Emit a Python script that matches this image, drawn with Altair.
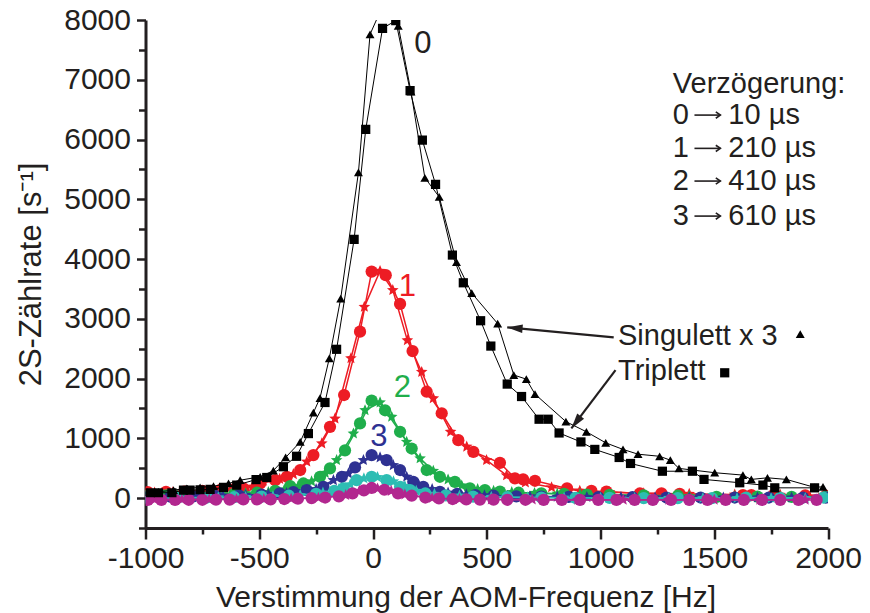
import altair as alt
import pandas as pd

# ---------------- data ----------------
# black: singulett x 3 (triangles) and triplett (squares), delay 0
sing_x = [-990, -943, -877, -818, -760, -701, -635, -584, -496, -438, -384, -320, -262, -233, -192, -142, -64, -13, 50, 111, 167, 228, 291, 367, 434, 548, 619, 674, 712, 848, 938, 1023, 1099, 1165, 1260, 1307, 1345, 1502, 1626, 1663, 1734, 1817, 1941, 1978]
sing_y = [100, 105, 134, 162, 180, 200, 245, 300, 357, 460, 680, 940, 1430, 1675, 2340, 3340, 5450, 7760, 8300, 7900, 6800, 5360, 5040, 3950, 3430, 2920, 2060, 1990, 1740, 1280, 1110, 925, 815, 735, 700, 635, 497, 425, 385, 313, 340, 313, 180, 190]

trip_x = [-978, -943, -884, -833, -804, -760, -716, -657, -599, -514, -467, -394, -336, -284, -211, -160, -83, -32, 42, 100, 163, 217, 275, 349, 397, 473, 518, 590, 653, 730, 770, 818, 914, 975, 1082, 1132, 1272, 1404, 1455, 1612, 1714, 1766, 1941]
trip_y = [90, 90, 90, 134, 134, 140, 145, 180, 218, 310, 345, 525, 700, 1080, 1600, 2490, 4330, 6170, 7860, 7990, 6820, 5990, 5250, 4067, 3603, 2968, 2544, 1908, 1700, 1320, 1320, 1090, 940, 815, 680, 580, 450, 450, 313, 257, 218, 172, 172]

# red: delay 1
red_c_x = [-990, -910, -830, -750, -670, -610, -570, -496, -430, -379, -320, -262, -189, -127, -57, -6, 56, 119, 174, 236, 302, 375, 441, 558, 624, 660, 712, 853, 960, 1026, 1173, 1268, 1348, 1626, 1663, 1760, 1900, 1990]
red_c_y = [100, 105, 110, 120, 140, 150, 162, 245, 300, 357, 470, 720, 1193, 1725, 2785, 3790, 3730, 3250, 2460, 1780, 1420, 970, 775, 590, 330, 313, 290, 162, 120, 110, 78, 80, 70, 50, 50, 50, 45, 40]
red_s_x = [-960, -880, -800, -720, -650, -600, -530, -482, -410, -350, -291, -225, -167, -97, -38, 31, 87, 151, 214, 265, 341, 412, 499, 587, 670, 785, 909, 1040, 1190, 1390, 1590, 1790, 1980]
red_s_y = [90, 95, 100, 110, 130, 150, 190, 290, 320, 400, 610, 915, 1330, 2340, 3200, 3800, 3480, 2640, 2110, 1670, 1110, 860, 635, 380, 260, 180, 122, 100, 80, 70, 60, 55, 50]

# green: delay 2
grn_c_x = [-990, -910, -810, -710, -610, -510, -430, -364, -306, -233, -189, -123, -57, -6, 53, 119, 170, 236, 294, 360, 426, 492, 558, 640, 740, 840, 940, 1040, 1190, 1340, 1510, 1690, 1840, 1990]
grn_c_y = [40, 45, 50, 60, 70, 90, 120, 200, 245, 357, 497, 800, 1250, 1630, 1470, 1110, 830, 470, 357, 273, 162, 134, 110, 90, 80, 70, 60, 55, 45, 40, 20, 25, 20, 20]
grn_s_x = [-960, -860, -760, -660, -560, -460, -390, -330, -270, -210, -160, -86, -35, 31, 82, 148, 207, 265, 330, 390, 460, 530, 610, 710, 810, 910, 1040, 1190, 1390, 1590, 1790, 1980]
grn_s_y = [45, 50, 55, 65, 80, 100, 140, 190, 280, 420, 635, 1080, 1470, 1600, 1360, 940, 665, 455, 310, 210, 150, 120, 100, 85, 75, 65, 55, 45, 35, 30, 25, 20]

# blue: delay 3
blu_c_x = [-990, -890, -790, -690, -590, -490, -410, -350, -291, -218, -137, -79, -6, 60, 119, 177, 221, 294, 370, 450, 530, 630, 740, 860, 990, 1140, 1290, 1440, 1590, 1740, 1890, 1990]
blu_c_y = [20, 25, 30, 35, 45, 60, 80, 100, 134, 190, 357, 515, 720, 635, 470, 273, 190, 105, 70, 50, 40, 30, 25, 20, 15, 15, 10, 10, 10, 10, 10, 10]
blu_s_x = [-960, -860, -760, -660, -560, -460, -380, -310, -250, -174, -108, -42, 31, 89, 148, 200, 260, 330, 410, 490, 590, 690, 810, 940, 1090, 1240, 1390, 1540, 1690, 1840, 1980]
blu_s_y = [20, 25, 30, 40, 50, 65, 85, 115, 150, 300, 413, 635, 680, 550, 357, 230, 150, 90, 60, 45, 35, 28, 22, 18, 15, 12, 10, 10, 10, 10, 10]

# cyan
cyn_c_x = [-990, -860, -730, -610, -490, -370, -250, -170, -130, -72, -6, 60, 119, 163, 230, 320, 440, 590, 740, 890, 1040, 1190, 1340, 1490, 1640, 1790, 1980]
cyn_c_y = [0, 5, 10, 15, 25, 40, 70, 120, 162, 300, 357, 300, 190, 134, 80, 45, 25, 15, 10, 5, 5, 0, 0, 0, 10, 5, 10]
cyn_s_x = [-960, -820, -680, -560, -440, -320, -220, -150, -100, -40, 20, 90, 140, 190, 270, 380, 520, 680, 840, 1000, 1150, 1300, 1450, 1600, 1750, 1900]
cyn_s_y = [5, 8, 12, 18, 30, 50, 90, 150, 230, 330, 350, 280, 200, 120, 70, 40, 20, 12, 8, 5, 3, 2, 0, 0, 0, 0]

# magenta
mag_c_x = [-990, -930, -870, -810, -750, -690, -630, -570, -510, -450, -390, -330, -270, -210, -150, -90, -40, -6, 50, 110, 170, 230, 290, 350, 410, 470, 530, 590, 670, 750, 830, 910, 990, 1070, 1150, 1230, 1310, 1390, 1470, 1550, 1630, 1710, 1790, 1870, 1950]
mag_c_y = [-30, -30, -30, -28, -28, -25, -25, -22, -20, -20, -15, -10, 0, 10, 30, 80, 130, 170, 140, 80, 40, 10, -5, -15, -20, -25, -25, -28, -28, -30, -30, -30, -30, -30, -30, -30, -30, -30, -30, -30, -30, -30, -30, -30, -30]
mag_s_x = [-960, -840, -720, -600, -480, -360, -240, -120, -60, 20, 80, 140, 260, 380, 520, 700, 900, 1100, 1300, 1500, 1700, 1900]
mag_s_y = [-25, -25, -22, -20, -18, -12, 5, 50, 120, 160, 120, 60, 0, -15, -22, -25, -28, -28, -28, -28, -28, -28]

# axes
x_major = [-1000, -500, 0, 500, 1000, 1500, 2000]
x_minor = [-750, -250, 250, 750, 1250, 1750]
y_major = [0, 1000, 2000, 3000, 4000, 5000, 6000, 7000, 8000]
y_minor = [-500, 500, 1500, 2500, 3500, 4500, 5500, 6500, 7500]

# texts
curve_labels = ["0", "1", "2", "3"]
curve_label_x = [219, 151, 129, 26]
curve_label_y = [7598, 3531, 1841, 1021]
legend_head = "Verzögerung:"
legend_keys = ["0", "1", "2", "3"]
legend_vals = ["10 µs", "210 µs", "410 µs", "610 µs"]
legend_x_key = 1318
legend_x_val = 1562
legend_arrow_x0 = 1413
legend_arrow_x1 = 1527
legend_y_head = 6783
legend_y = [6259, 5702, 5155, 4569]
legend_arrow_y = [6409, 5852, 5305, 4719]
note_texts = ["Singulett x 3", "Triplett"]
note_x = [1077, 1077]
note_y = [2561, 1975]
arrow_x0 = [1058, 1066]
arrow_y0 = [2689, 2142]
arrow_x1 = [590, 872]
arrow_y1 = [2857, 1166]
arrow_angle = [275, 217]

# ---------------- styling ----------------
FONT = "Liberation Sans"
INK = "#231f20"
RED, GREEN, BLUE, CYAN, MAGENTA = "#ed1c24", "#1fae4b", "#2e3192", "#2dbdb3", "#b2278f"
STAR = "M0,-1L0.265,-0.364L0.951,-0.309L0.428,0.139L0.588,0.809L0,0.45L-0.588,0.809L-0.428,0.139L-0.951,-0.309L-0.265,-0.364Z"
HEAD = "M0,0L0.42,1.5L-0.42,1.5Z"
CHEVRON = "M-0.75,1.1L0,0L0.75,1.1"

xscale = alt.Scale(domain=[-1000, 2000], nice=False, zero=False)
yscale = alt.Scale(domain=[-500, 8000], nice=False, zero=False)


def X(field="x"):
    return alt.X(f"{field}:Q", scale=xscale, axis=None)


def Y(field="y"):
    return alt.Y(f"{field}:Q", scale=yscale, axis=None)


def series(xs, ys, color, shape, size, lw):
    d = pd.DataFrame({"x": xs, "y": ys})
    b = alt.Chart(d)
    line = b.mark_line(color=color, strokeWidth=lw, clip=True).encode(x=X(), y=Y())
    pts = b.mark_point(shape=shape, filled=True, color=color, fill=color, size=size,
                       opacity=1, strokeWidth=0, clip=True).encode(x=X(), y=Y())
    return [line, pts]


axis_df = pd.DataFrame({"x": [0], "y": [0]})
major_axes = alt.Chart(axis_df).mark_point(opacity=0).encode(
    x=alt.X("x:Q", scale=xscale, title="Verstimmung der AOM-Frequenz [Hz]",
            axis=alt.Axis(orient="bottom", values=x_major, tickSize=11, labelPadding=4,
                          labelFlush=False, labelOverlap=False,
                          labelExpr="'' + datum.value", titlePadding=9, titleX=320)),
    y=alt.Y("y:Q", scale=yscale, title="2S-Zählrate [s⁻¹]",
            axis=alt.Axis(orient="left", values=y_major, tickSize=9, labelPadding=6,
                          labelFlush=False, labelOverlap=False,
                          labelExpr="'' + datum.value", titlePadding=16, titleFontSize=31)),
)
minor_axes = alt.Chart(axis_df).mark_point(opacity=0).encode(
    x=alt.X("x:Q", scale=xscale, title=None,
            axis=alt.Axis(orient="bottom", values=x_minor, tickSize=6, labels=False, domain=False)),
    y=alt.Y("y:Q", scale=yscale, title=None,
            axis=alt.Axis(orient="left", values=y_minor, tickSize=7, labels=False, domain=False)),
)

layers = [major_axes, minor_axes]
for cx, cy, sx, sy, col in [
    (red_c_x, red_c_y, red_s_x, red_s_y, RED),
    (grn_c_x, grn_c_y, grn_s_x, grn_s_y, GREEN),
    (blu_c_x, blu_c_y, blu_s_x, blu_s_y, BLUE),
    (cyn_c_x, cyn_c_y, cyn_s_x, cyn_s_y, CYAN),
    (mag_c_x, mag_c_y, mag_s_x, mag_s_y, MAGENTA),
]:
    layers += series(sx, sy, col, STAR, 150, 1.5)
    layers += series(cx, cy, col, "circle", 150, 1.5)

layers += series(sing_x, sing_y, "#000000", "triangle-up", 80, 1)
layers += series(trip_x, trip_y, "#000000", "square", 85, 1)

# curve labels
lab_df = pd.DataFrame({"x": curve_label_x, "y": curve_label_y, "t": curve_labels,
                       "c": [INK, RED, GREEN, BLUE]})
layers.append(alt.Chart(lab_df).mark_text(font=FONT, fontSize=31, align="center", baseline="middle").encode(
    x=X(), y=Y(), text="t:N", color=alt.Color("c:N", scale=None)))

# legend block
head_df = pd.DataFrame({"x": [legend_x_key], "y": [legend_y_head], "t": [legend_head]})
layers.append(alt.Chart(head_df).mark_text(font=FONT, fontSize=29, align="left", baseline="alphabetic",
                                           color=INK).encode(x=X(), y=Y(), text="t:N"))
key_df = pd.DataFrame({"x": [legend_x_key] * 4, "y": legend_y, "t": legend_keys})
layers.append(alt.Chart(key_df).mark_text(font=FONT, fontSize=29, align="left", baseline="alphabetic",
                                          color=INK).encode(x=X(), y=Y(), text="t:N"))
val_df = pd.DataFrame({"x": [legend_x_val] * 4, "y": legend_y, "t": legend_vals})
layers.append(alt.Chart(val_df).mark_text(font=FONT, fontSize=29, align="left", baseline="alphabetic",
                                          color=INK).encode(x=X(), y=Y(), text="t:N"))
larr_df = pd.DataFrame({"x0": [legend_arrow_x0] * 4, "x1": [legend_arrow_x1] * 4, "y": legend_arrow_y,
                        "a": [90] * 4})
layers.append(alt.Chart(larr_df).mark_rule(color=INK, strokeWidth=1.6).encode(
    x=X("x0"), x2="x1:Q", y=Y()))
layers.append(alt.Chart(larr_df).mark_point(shape=CHEVRON, filled=False, color=INK, size=70,
                                            strokeWidth=1.6, opacity=1).encode(
    x=X("x1"), y=Y(), angle=alt.Angle("a:Q", scale=None)))

# annotations with arrows
note_df = pd.DataFrame({"x": note_x, "y": note_y, "t": note_texts})
layers.append(alt.Chart(note_df).mark_text(font=FONT, fontSize=29, align="left", baseline="alphabetic",
                                           color=INK).encode(x=X(), y=Y(), text="t:N"))
tri_df = pd.DataFrame({"x": [1878], "y": [2745]})
sq_df = pd.DataFrame({"x": [1546], "y": [2097]})
layers.append(alt.Chart(tri_df).mark_point(
    shape="triangle-up", filled=True, color="#000000", size=80, opacity=1).encode(x=X(), y=Y()))
layers.append(alt.Chart(sq_df).mark_point(
    shape="square", filled=True, color="#000000", size=85, opacity=1).encode(x=X(), y=Y()))

arr_df = pd.DataFrame({"x0": arrow_x0, "y0": arrow_y0, "x1": arrow_x1, "y1": arrow_y1, "a": arrow_angle})
layers.append(alt.Chart(arr_df).mark_rule(color=INK, strokeWidth=2.2).encode(
    x=X("x0"), y=Y("y0"), x2="x1:Q", y2="y1:Q"))
layers.append(alt.Chart(arr_df).mark_point(shape=HEAD, filled=True, color=INK, size=420, opacity=1,
                                           strokeWidth=0).encode(
    x=X("x1"), y=Y("y1"), angle=alt.Angle("a:Q", scale=None)))

chart = alt.layer(*layers).resolve_axis(x="independent", y="independent").properties(
    width=682.5, height=508,
    autosize=alt.AutoSizeParams(type="none"),
    padding={"left": 145.5, "top": 20, "right": 42, "bottom": 85},
    background="white",
).configure_view(stroke=None).configure_axis(
    grid=False,
    domainColor=INK, domainWidth=3,
    tickColor=INK, tickWidth=2.5,
    labelFont=FONT, labelFontSize=30, labelColor=INK,
    titleFont=FONT, titleFontSize=30, titleFontWeight="normal", titleColor=INK,
)

chart.save("out.html", embed_options={"renderer": "svg", "actions": False})
